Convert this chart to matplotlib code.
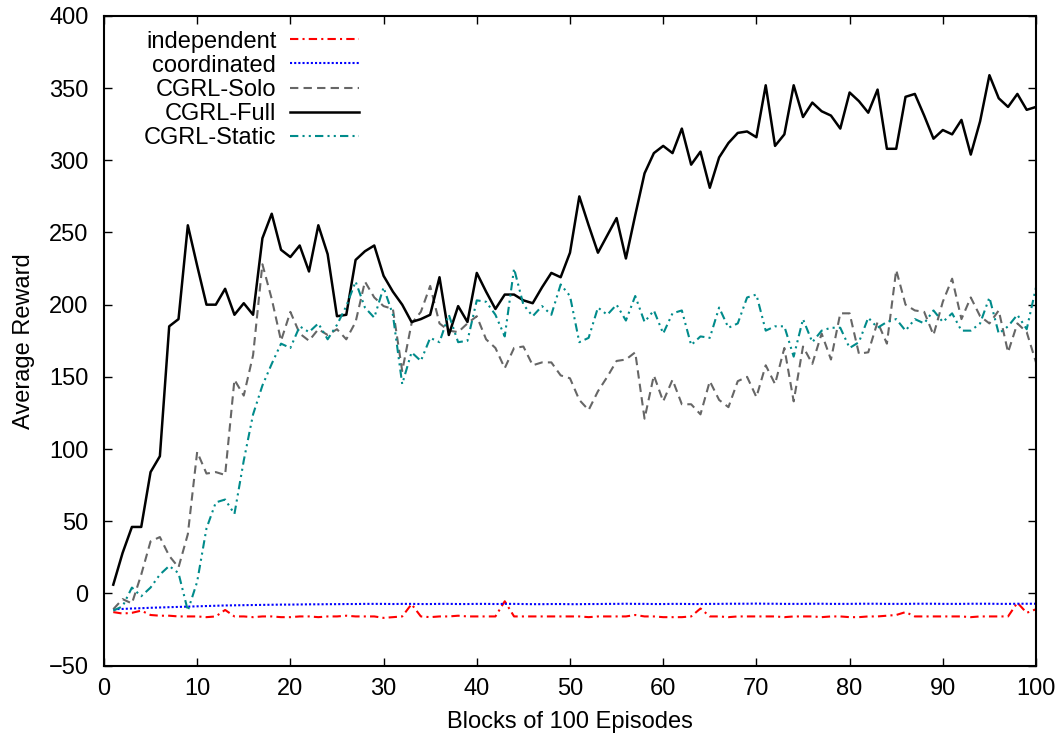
import matplotlib
matplotlib.use("Agg")
import matplotlib.pyplot as plt

plt.rcParams['font.family'] = ['Liberation Sans', 'DejaVu Sans']

blocks = list(range(1, 101))

independent = [
    -13, -14, -13.5, -12, -15, -15.5, -15.5, -16, -16, -16,
    -16.5, -16, -11.5, -16, -16, -16.5, -16, -16, -16.5, -16.5,
    -16, -16, -16.5, -16, -16, -15.5, -16, -16, -16, -17,
    -16.5, -16, -7.5, -16, -16.5, -16, -16, -15.5, -16, -16,
    -16, -16, -5.5, -16, -16, -16, -16, -16, -16, -16,
    -16, -16.5, -16, -16, -16, -16, -15, -16, -16, -16.5,
    -16.5, -16.5, -16, -10.5, -16, -16, -16.5, -16, -16, -16,
    -16, -16, -16.5, -16, -16, -16, -16.5, -16, -16, -16.5,
    -16.5, -16, -16, -15.5, -15, -13, -16, -16, -16, -16,
    -16, -16, -16.5, -16, -16, -16, -16, -6.5, -13.5, -11,
]

coordinated = [
    -11, -10.8, -10.5, -10.3, -10, -9.8, -9.6, -9.4, -9.2, -9,
    -8.8, -8.6, -8.4, -8.3, -8.2, -8.1, -8, -7.9, -7.8, -7.8,
    -7.7, -7.6, -7.6, -7.5, -7.5, -7.4, -7.4, -7.3, -7.3, -7.3,
    -7.4, -7.3, -7.3, -7.4, -7.4, -7.3, -7.3, -7.4, -7.4, -7.3,
    -7.3, -7.4, -7.3, -7.3, -7.4, -7.5, -7.5, -7.4, -7.4, -7.5,
    -7.5, -7.4, -7.4, -7.3, -7.3, -7.2, -7.3, -7.3, -7.4, -7.4,
    -7.3, -7.3, -7.4, -7.4, -7.3, -7.3, -7.2, -7.2, -7.2, -7.1,
    -7.2, -7.2, -7.3, -7.3, -7.3, -7.2, -7.2, -7.3, -7.3, -7.3,
    -7.2, -7.2, -7.2, -7.3, -7.3, -7.3, -7.2, -7.2, -7.2, -7.3,
    -7.3, -7.3, -7.2, -7.2, -7.2, -7.3, -7.3, -7.2, -7.2, -7.2,
]

cgrl_solo = [
    -11, -4, -7, 13, 36, 39, 26, 18, 41, 98,
    83, 84, 82, 148, 137, 165, 228, 204, 175, 195,
    180, 175, 183, 179, 183, 176, 188, 216, 205, 199,
    197, 154, 187, 195, 213, 187, 182, 181, 187, 192,
    176, 170, 156, 170, 171, 158, 160, 160, 151, 149,
    134, 127, 140, 150, 161, 162, 167, 121, 151, 133,
    148, 131, 131, 124, 147, 134, 129, 147, 150, 136,
    158, 145, 170, 133, 171, 159, 180, 162, 194, 194,
    166, 167, 188, 173, 224, 200, 196, 195, 179, 202,
    218, 190, 205, 192, 187, 196, 167, 187, 181, 160,
]

cgrl_full = [
    6, 28, 46, 46, 84, 95, 185, 190, 255, 227,
    200, 200, 211, 193, 201, 193, 246, 263, 238, 233,
    241, 223, 255, 235, 192, 193, 231, 237, 241, 220,
    209, 200, 188, 190, 193, 219, 179, 199, 188, 222,
    209, 197, 207, 207, 203, 201, 212, 222, 219, 236,
    275, 255, 236, 248, 260, 232, 262, 291, 305, 310,
    305, 322, 297, 306, 281, 302, 312, 319, 320, 316,
    352, 310, 318, 352, 330, 340, 334, 331, 322, 347,
    341, 333, 349, 308, 308, 344, 346, 331, 315, 321,
    318, 328, 304, 327, 359, 343, 337, 346, 335, 337,
]

cgrl_static = [
    -12, -9, 4, -2, 4, 13, 19, 14, -12, 8,
    45, 63, 65, 55, 92, 124, 144, 159, 173, 170,
    185, 181, 187, 176, 186, 199, 216, 198, 191, 212,
    193, 145, 167, 161, 177, 174, 193, 174, 175, 203,
    202, 193, 178, 225, 200, 192, 199, 193, 214, 206,
    174, 177, 198, 193, 200, 189, 206, 188, 196, 180,
    194, 196, 172, 178, 177, 198, 184, 187, 205, 207,
    182, 185, 185, 164, 190, 174, 182, 184, 184, 170,
    174, 191, 184, 188, 190, 182, 190, 187, 196, 188,
    194, 182, 182, 187, 205, 180, 185, 193, 183, 212,
]

fig = plt.figure(figsize=(10.64, 7.44), dpi=100)
ax = fig.add_axes([0.0977, 0.1055, 0.8760, 0.8730])

ax.plot(blocks, independent, color='#ff0000', lw=1.5, dashes=(4, 2, 1, 2), label='independent')
ax.plot(blocks, coordinated, color='#0000ff', lw=1.5, dashes=(1, 1), label='coordinated')
ax.plot(blocks, cgrl_solo, color='#666666', lw=1.5, dashes=(4, 2.5), label='CGRL-Solo')
ax.plot(blocks, cgrl_full, color='black', lw=1.8, label='CGRL-Full')
ax.plot(blocks, cgrl_static, color='#008b8b', lw=1.5, dashes=(4, 2, 1, 2, 1, 2), label='CGRL-Static')

ax.set_xlim(0, 100)
ax.set_ylim(-50, 400)
ax.set_xticks(range(0, 101, 10))
ax.set_yticks(range(-50, 401, 50))
ax.tick_params(direction='in', top=True, right=True, length=6, width=1,
               labelsize=17)
ax.tick_params(axis='y', pad=11)
ax.tick_params(axis='x', pad=9)
for s in ax.spines.values():
    s.set_linewidth(1.5)

ax.set_xlabel('Blocks of 100 Episodes', fontsize=17, labelpad=8)
ax.set_ylabel('Average Reward', fontsize=17, labelpad=10)

# key: text on the left, sample line on the right
ax.legend(loc='upper left', bbox_to_anchor=(0.025, 1.003), frameon=False,
          markerfirst=False, fontsize=17, handlelength=2.9, handletextpad=0.6,
          labelspacing=0.09, borderpad=0.3, borderaxespad=0.4)

fig.savefig('out.png', dpi=100)
